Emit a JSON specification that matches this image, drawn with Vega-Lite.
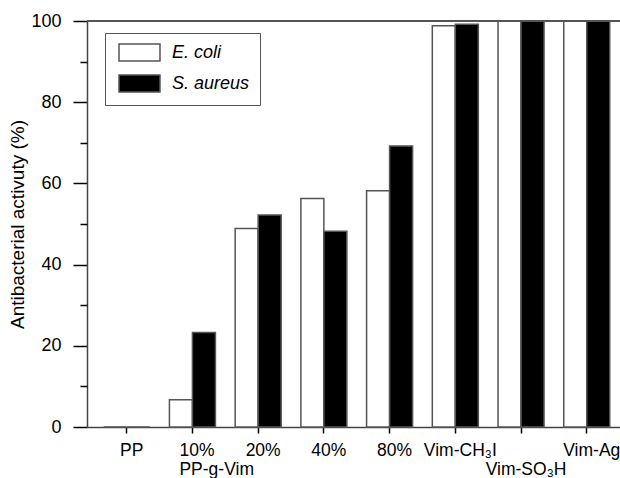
{
  "$schema": "https://vega.github.io/schema/vega-lite/v6.json",
  "width": 533,
  "height": 406,
  "autosize": {"type": "none"},
  "padding": {"left": 87, "top": 21, "right": 0, "bottom": 51},
  "background": "white",
  "config": {
    "view": {"stroke": null},
    "font": "Liberation Sans",
    "axis": {"labelColor": "black", "titleColor": "black", "grid": false, "domainColor": "#444", "domainWidth": 1.5, "tickColor": "black", "tickWidth": 1.5}
  },
  "data": {
    "values": [
      {"group": "PP", "organism": "E. coli", "activity": 0},
      {"group": "PP", "organism": "S. aureus", "activity": 0},
      {"group": "10%", "organism": "E. coli", "activity": 6.7},
      {"group": "10%", "organism": "S. aureus", "activity": 23.3},
      {"group": "20%", "organism": "E. coli", "activity": 48.9},
      {"group": "20%", "organism": "S. aureus", "activity": 52.2},
      {"group": "40%", "organism": "E. coli", "activity": 56.3},
      {"group": "40%", "organism": "S. aureus", "activity": 48.2},
      {"group": "80%", "organism": "E. coli", "activity": 58.2},
      {"group": "80%", "organism": "S. aureus", "activity": 69.2},
      {"group": "Vim-CH₃I", "organism": "E. coli", "activity": 98.8},
      {"group": "Vim-CH₃I", "organism": "S. aureus", "activity": 99.2},
      {"group": "Vim-SO₃H", "organism": "E. coli", "activity": 100},
      {"group": "Vim-SO₃H", "organism": "S. aureus", "activity": 100},
      {"group": "Vim-Ag", "organism": "E. coli", "activity": 100},
      {"group": "Vim-Ag", "organism": "S. aureus", "activity": 100}
    ]
  },
  "resolve": {"axis": {"y": "independent"}},
  "layer": [
    {
      "mark": {"type": "bar", "stroke": "#555", "strokeWidth": 1.5},
      "encoding": {
        "x": {
          "field": "group", "type": "nominal", "sort": null,
          "scale": {"paddingInner": 0.3, "paddingOuter": 0.205, "align": 0.62},
          "axis": {
            "title": null,
            "tickColor": "black",
            "tickSize": 6,
            "labelFontSize": 17.5,
            "labelPadding": 8,
            "labelBaseline": "top",
            "labelLineHeight": 19,
            "labelOverlap": false,
            "labelAngle": 0,
            "labelExpr": "datum.value == '10%' ? ['10%', 'PP-g-Vim'] : (datum.value == 'Vim-SO₃H' ? ['', 'Vim-SO₃H'] : datum.label)",
            "labelAlign": {"condition": {"test": "datum.value == '10%'", "value": "left"}, "value": "center"},
            "labelOffset": {"condition": {"test": "datum.value == '10%'", "value": -13}, "value": 5}
          }
        },
        "xOffset": {"field": "organism", "type": "nominal", "sort": null, "scale": {"padding": 0}},
        "y": {
          "field": "activity", "type": "quantitative",
          "scale": {"domain": [0, 100], "nice": false},
          "axis": {
            "orient": "left",
            "domain": true,
            "values": [0, 20, 40, 60, 80, 100],
            "tickColor": "black",
            "tickSize": 14,
            "labelFontSize": 18,
            "labelPadding": 12,
            "title": "Antibacterial activuty (%)",
            "titleFontSize": 19,
            "titleFontWeight": "normal",
            "titlePadding": 3
          }
        },
        "fill": {
          "field": "organism", "type": "nominal",
          "scale": {"domain": ["E. coli", "S. aureus"], "range": ["white", "black"]},
          "legend": {
            "orient": "none", "legendX": 18, "legendY": 12,
            "title": null,
            "symbolType": "M-2.41,-1H2.41V1H-2.41Z",
            "symbolSize": 289,
            "symbolOffset": 15,
            "symbolStrokeColor": "#555",
            "symbolStrokeWidth": 1.5,
            "labelFontSize": 18,
            "labelFontStyle": "italic",
            "labelColor": "black",
            "labelOffset": 23,
            "labelExpr": "datum.label + '   '",
            "strokeColor": "#555",
            "fillColor": "white",
            "padding": 10,
            "rowPadding": 8
          }
        }
      }
    },
    {
      "mark": {"type": "rule", "color": "#555", "strokeWidth": 1.5},
      "encoding": {
        "y": {
          "datum": 100, "type": "quantitative",
          "axis": {"orient": "left", "values": [10, 30, 50, 70, 90], "tickColor": "black", "tickSize": 7, "labels": false, "domain": false, "title": null}
        }
      }
    }
  ]
}
